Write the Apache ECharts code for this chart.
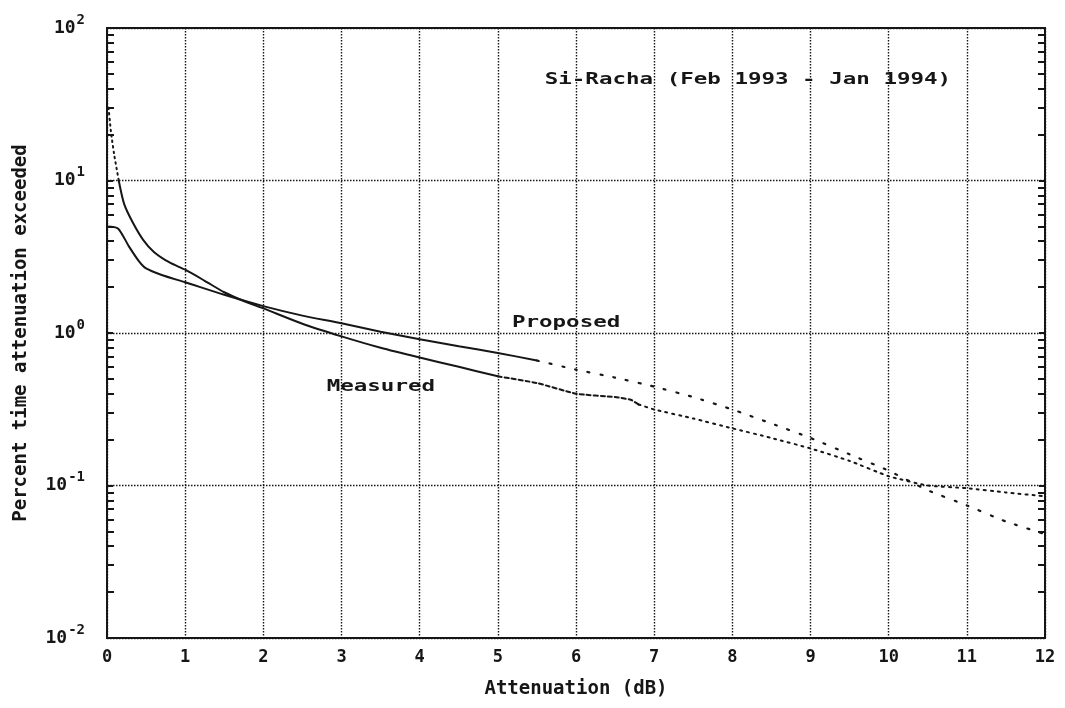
<!DOCTYPE html>
<html>
<head>
<meta charset="utf-8">
<script src="https://cdn.jsdelivr.net/npm/echarts@6/dist/echarts.min.js"></script>
<style>
html,body{margin:0;padding:0;background:#fff;}
#chart{width:1065px;height:708px;}
</style>
</head>
<body>
<div id="chart"></div>
<script>
// ---- Data ----
var xTickLabels = ['0','1','2','3','4','5','6','7','8','9','10','11','12'];
var yTickExponents = [-2, -1, 0, 1, 2];

var measuredX = [0.02, 0.05, 0.09, 0.15, 0.22, 0.33, 0.46, 0.6, 0.8, 1.0, 1.25, 1.5, 1.75, 2.0, 2.5, 3.0, 3.5, 4.0, 4.5, 5.0, 5.5, 6.0, 6.5, 6.7, 6.8, 7.0, 7.5, 8.0, 8.5, 9.0, 9.5, 10.0, 10.5, 11.0, 11.5, 12.0];
var measuredY = [30, 21, 15, 10, 7, 5.3, 4.1, 3.4, 2.9, 2.6, 2.2, 1.85, 1.62, 1.45, 1.15, 0.95, 0.8, 0.69, 0.6, 0.52, 0.47, 0.40, 0.38, 0.365, 0.34, 0.315, 0.275, 0.237, 0.205, 0.175, 0.145, 0.115, 0.1, 0.096, 0.09, 0.085];

var proposedX = [0.0, 0.14, 0.28, 0.41, 0.5, 0.7, 1.0, 1.5, 2.0, 2.5, 3.0, 3.5, 4.0, 4.5, 5.0, 5.5, 6.0, 6.5, 7.0, 7.5, 8.0, 8.5, 9.0, 9.5, 10.0, 10.5, 11.0, 11.5, 12.0];
var proposedY = [5.0, 4.85, 3.7, 2.95, 2.65, 2.4, 2.15, 1.78, 1.5, 1.3, 1.16, 1.02, 0.91, 0.82, 0.74, 0.66, 0.575, 0.51, 0.445, 0.38, 0.315, 0.255, 0.205, 0.16, 0.125, 0.093, 0.074, 0.058, 0.048];

// line-style break points (x values where the plotted style changes)
var measuredSolidFrom = 0.15, measuredSolidTo = 5.0, measuredDashTo = 6.8;
var proposedSolidTo = 5.5;

var annotationText = ['Si-Racha (Feb 1993 - Jan 1994)', 'Proposed', 'Measured'];
var annotationX = [5.6, 5.18, 2.81];
var annotationY = [45.6, 1.16, 0.443];

// ---- helpers ----
function segment(xs, ys, from, to) {
  var out = [];
  for (var i = 0; i < xs.length; i++) {
    if (xs[i] >= from - 1e-9 && xs[i] <= to + 1e-9) out.push([xs[i], ys[i]]);
  }
  return out;
}
var INK = '#161616';
var FONT = '"DejaVu Sans Mono", "Liberation Mono", monospace';

function lineSeries(name, data, type, width, smooth) {
  return {
    name: name, type: 'line', data: data, showSymbol: false, symbol: 'none',
    smooth: smooth || false, silent: true,
    lineStyle: { color: INK, width: width, type: type, cap: 'round' }
  };
}

var chart = echarts.init(document.getElementById('chart'), null, { renderer: 'canvas' });

var yLabelFmt = function (v) {
  var e = Math.round(Math.log(v) / Math.LN10);
  return '{b|10}{e|' + e + '}';
};
var yRich = {
  b: { fontSize: 18, fontWeight: 'bold', fontFamily: FONT, color: INK },
  e: { fontSize: 14, fontWeight: 'bold', fontFamily: FONT, color: INK, padding: [0, 0, 16, 1] }
};

var option = {
  backgroundColor: '#ffffff',
  animation: false,
  grid: { left: 107, right: 20, top: 28, bottom: 70, show: true, borderColor: INK, borderWidth: 2, backgroundColor: 'transparent' },
  xAxis: {
    type: 'value', min: 0, max: 12, interval: 1,
    name: 'Attenuation (dB)', nameLocation: 'middle', nameGap: 42,
    nameTextStyle: { fontSize: 19, fontWeight: 'bold', fontFamily: FONT, color: INK },
    axisLine: { show: false }, axisTick: { show: false },
    axisLabel: { margin: 11, fontSize: 17, fontWeight: 'bold', fontFamily: FONT, color: INK,
      formatter: function (v) { return xTickLabels[Math.round(v)]; } },
    splitLine: { show: true, lineStyle: { color: INK, width: 1.4, type: [1.5, 1.5] } }
  },
  yAxis: [{
    type: 'log', logBase: 10, min: 0.01, max: 100, position: 'left',
    name: 'Percent time attenuation exceeded', nameLocation: 'middle', nameGap: 76,
    nameTextStyle: { fontSize: 19, fontWeight: 'bold', fontFamily: FONT, color: INK },
    axisLine: { show: false },
    axisTick: { show: true, inside: true, length: 6, lineStyle: { color: INK, width: 2 } },
    minorTick: { show: true, splitNumber: 9, length: 7, lineStyle: { color: INK, width: 2 } },
    axisLabel: { margin: 22, formatter: yLabelFmt, rich: yRich },
    splitLine: { show: true, lineStyle: { color: INK, width: 1.4, type: [1.5, 1.5] } }
  }, {
    type: 'log', logBase: 10, min: 0.01, max: 100, position: 'right',
    axisLine: { show: false },
    axisTick: { show: true, inside: true, length: 6, lineStyle: { color: INK, width: 2 } },
    minorTick: { show: true, splitNumber: 9, length: 7, lineStyle: { color: INK, width: 2 } },
    axisLabel: { show: false },
    splitLine: { show: false }
  }],
  series: [
    lineSeries('Measured (sparse start)', segment(measuredX, measuredY, 0, measuredSolidFrom), [1.5, 4], 2, 0.2),
    lineSeries('Measured', segment(measuredX, measuredY, measuredSolidFrom, measuredSolidTo), 'solid', 2, 0.25),
    lineSeries('Measured (dashed)', segment(measuredX, measuredY, measuredSolidTo, measuredDashTo), [4, 3], 2, 0.15),
    lineSeries('Measured (dotted)', segment(measuredX, measuredY, measuredDashTo, 12), [2, 5], 2, 0.15),
    lineSeries('Proposed', segment(proposedX, proposedY, 0, proposedSolidTo), 'solid', 2, 0.25),
    lineSeries('Proposed (dotted)', segment(proposedX, proposedY, proposedSolidTo, 12), [2, 11], 2.2, 0.15)
  ]
};
chart.setOption(option);

// annotations placed at data coordinates
var g = [];
for (var i = 0; i < annotationText.length; i++) {
  var p = chart.convertToPixel({ gridIndex: 0 }, [annotationX[i], annotationY[i]]);
  g.push({
    type: 'text', x: p[0], y: p[1], scaleX: 1.5, silent: true, z: 10,
    style: { text: annotationText[i], fontSize: 15, fontWeight: 'bold', fontFamily: FONT,
      fill: INK, align: 'left', verticalAlign: 'middle' }
  });
}
chart.setOption({ graphic: g });
</script>
</body>
</html>
